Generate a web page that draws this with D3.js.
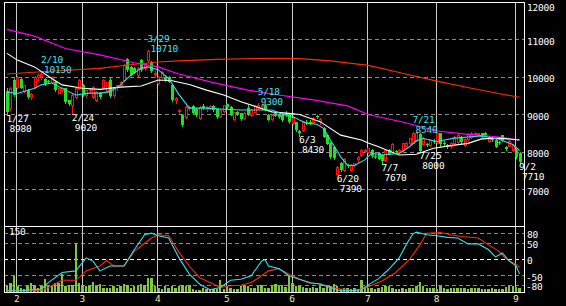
<!DOCTYPE html>
<html>
<head>
<meta charset="utf-8">
<script src="https://cdnjs.cloudflare.com/ajax/libs/d3/7.8.5/d3.min.js"></script>
<style>
html, body { margin: 0; padding: 0; background: #000; }
svg { display: block; }
text { font-family: "DejaVu Sans Mono", monospace; font-size: 9.5px; letter-spacing: -0.2px; }
</style>
</head>
<body>
<svg id="chart" width="566" height="306"></svg>
<script>
// trading days of each month
const jan = [27, 28, 31]
const feb = [1, 2, 3, 4, 7, 8, 9, 10, 14, 15, 16, 17, 18, 21, 22, 23, 24, 25, 28]
const mar = [1, 2, 3, 4, 7, 8, 9, 10, 11, 14, 15, 16, 17, 18, 22, 23, 24, 25, 28, 29, 30, 31]
const apr = [1, 4, 5, 6, 7, 8, 11, 12, 13, 14, 15, 18, 19, 20, 21, 22, 25, 26, 27, 28]
const may = [2, 6, 9, 10, 11, 12, 13, 16, 17, 18, 19, 20, 23, 24, 25, 26, 27, 30, 31]
const jun = [1, 2, 3, 6, 7, 8, 9, 10, 13, 14, 15, 16, 17, 20, 21, 22, 23, 24, 27, 28, 29, 30]
const jul = [1, 4, 5, 6, 7, 8, 11, 12, 13, 14, 15, 19, 20, 21, 22, 25, 26, 27, 28, 29]
const aug = [1, 2, 3, 4, 5, 8, 9, 10, 11, 12, 15, 16, 17, 18, 19, 22, 23, 24, 25, 26, 29, 30, 31]
const sep = [1, 2]

// [open, high, low, close]
const ohlcJan = [[9640, 9700, 8980, 9080], [9170, 9740, 9120, 9700], [9930, 9960, 9500, 9530]]
const ohlcFeb = [
    [9740, 10030, 9700, 10000], [9950, 9980, 9700, 9720], [9640, 9800, 9600, 9780], [9650, 9680, 9440, 9470],
    [9460, 9560, 9420, 9540], [9740, 10020, 9720, 10000], [9990, 10080, 9900, 10050], [10020, 10150, 9950, 10090],
    [9950, 9980, 9800, 9820], [9900, 9930, 9850, 9870], [9880, 10020, 9860, 10000], [9870, 9900, 9640, 9660],
    [9580, 9720, 9560, 9700], [9650, 9730, 9600, 9710], [9700, 9720, 9320, 9340], [9380, 9400, 9250, 9270],
    [9250, 9540, 9020, 9520], [9460, 9720, 9440, 9700], [9710, 9940, 9680, 9920]
]
const ohlcMar = [
    [9780, 9820, 9500, 9520], [9520, 9700, 9480, 9650], [9660, 9720, 9600, 9680], [9470, 9760, 9440, 9730],
    [9390, 9620, 9350, 9600], [9560, 9600, 9440, 9470], [9740, 9950, 9700, 9920], [9640, 9880, 9600, 9860],
    [9920, 9960, 9480, 9500], [9520, 9740, 9480, 9730], [9750, 9800, 9650, 9780], [9800, 9900, 9750, 9880],
    [9920, 10350, 9900, 10320], [10480, 10520, 10160, 10190], [10270, 10300, 10050, 10060], [10230, 10260, 10100, 10110],
    [10060, 10260, 10030, 10240], [10450, 10480, 10170, 10190], [10240, 10370, 10200, 10350], [10450, 10710, 10400, 10700],
    [10400, 10420, 10130, 10150], [10080, 10160, 10000, 10110]
]
const ohlcApr = [
    [9850, 10030, 9820, 10000], [9990, 10150, 9960, 10130], [10000, 10050, 9900, 9920], [10000, 10020, 9860, 9870],
    [9790, 9820, 9370, 9390], [9380, 9480, 9300, 9440], [9100, 9150, 9050, 9120], [8990, 9010, 8700, 8720],
    [8940, 9230, 8900, 9200], [9170, 9230, 9120, 9200], [9220, 9260, 9030, 9040], [9150, 9180, 8970, 8990],
    [8910, 9230, 8880, 9200], [9220, 9280, 9150, 9170], [9150, 9220, 9100, 9200], [9180, 9260, 9150, 9230],
    [9220, 9260, 9100, 9130], [9150, 9180, 8900, 8930], [8950, 9150, 8930, 9120], [9100, 9260, 9080, 9240]
]
const ohlcMay = [
    [9280, 9290, 9180, 9200], [9200, 9230, 8990, 9000], [8880, 9080, 8850, 9060], [9080, 9100, 9000, 9020],
    [9030, 9050, 8860, 8880], [8900, 9080, 8880, 9050], [9170, 9250, 8980, 9000], [8980, 9150, 8950, 9120],
    [9080, 9250, 9060, 9230], [9200, 9300, 9150, 9250], [9220, 9280, 9150, 9260], [9250, 9270, 9120, 9140],
    [9000, 9020, 8850, 8860], [8870, 9020, 8850, 9000], [9050, 9070, 8960, 8970], [9000, 9020, 8900, 8920],
    [9000, 9050, 8840, 8860], [9030, 9100, 8960, 8980], [9010, 9040, 8780, 8800]
]
const ohlcJun = [
    [8780, 8920, 8760, 8900], [8790, 8810, 8560, 8590], [8560, 8600, 8430, 8500], [8590, 8810, 8560, 8800],
    [8810, 8860, 8760, 8800], [8800, 8850, 8760, 8780], [8790, 8920, 8770, 8900], [8970, 9000, 8910, 8930],
    [8820, 8900, 8740, 8880], [8640, 8660, 8400, 8410], [8440, 8470, 8200, 8220], [8240, 8260, 7850, 7870],
    [8130, 8150, 7820, 7840], [7420, 7620, 7390, 7600], [7710, 7740, 7500, 7520], [7520, 7830, 7500, 7810],
    [7650, 7680, 7600, 7630], [7520, 7670, 7500, 7650], [7650, 7720, 7620, 7700], [7820, 7900, 7700, 7870],
    [7930, 8070, 7900, 8050], [8020, 8080, 7990, 8060]
]
const ohlcJul = [
    [8000, 8120, 7980, 8100], [8050, 8080, 7880, 7900], [7900, 7950, 7850, 7880], [7970, 7990, 7800, 7820],
    [7920, 7950, 7670, 7750], [7780, 8080, 7760, 8050], [8050, 8070, 7940, 7960], [8000, 8240, 7980, 8210],
    [8030, 8060, 7990, 8010], [8000, 8080, 7980, 8060], [8060, 8250, 8030, 8240], [8170, 8260, 8150, 8240],
    [8240, 8380, 8220, 8370], [8250, 8540, 8230, 8500], [8330, 8530, 8300, 8500], [8480, 8510, 8000, 8030],
    [8200, 8400, 8180, 8370], [8200, 8230, 8150, 8180], [8180, 8340, 8160, 8320], [8300, 8350, 8250, 8280]
]
const ohlcAug = [
    [8270, 8530, 8250, 8520], [8500, 8520, 8170, 8200], [8250, 8300, 8180, 8220], [8180, 8200, 8100, 8130],
    [8150, 8260, 8120, 8230], [8240, 8420, 8220, 8400], [8260, 8470, 8240, 8450], [8400, 8430, 8250, 8270],
    [8190, 8380, 8170, 8360], [8350, 8510, 8330, 8490], [8400, 8530, 8380, 8520], [8490, 8530, 8470, 8510],
    [8480, 8520, 8460, 8500], [8500, 8520, 8400, 8430], [8510, 8530, 8440, 8460], [8290, 8420, 8270, 8400],
    [8380, 8400, 8300, 8320], [8320, 8340, 8130, 8140], [8260, 8300, 8200, 8250], [8440, 8460, 8290, 8310],
    [8130, 8160, 8050, 8070], [8170, 8330, 8150, 8300], [8060, 8210, 8040, 8190]
]
const ohlcSep = [[8060, 8080, 7840, 7860], [7980, 8000, 7710, 7740]]

// volume (scale 0-150)
const volJan = [14, 21, 38]
const volFeb = [15, 10, 8, 14, 20, 17, 10, 14, 29, 14, 15, 21, 20, 42, 14, 15, 17, 112, 21]
const volMar = [17, 14, 15, 23, 15, 19, 10, 10, 10, 14, 10, 14, 19, 17, 10, 14, 14, 19, 17, 33, 33, 14]
const volApr = [10, 6, 14, 10, 15, 10, 14, 16, 14, 17, 6, 4, 4, 10, 6, 6, 8, 6, 27, 8]
const volMay = [14, 10, 8, 6, 15, 15, 14, 10, 10, 15, 17, 10, 10, 14, 19, 14, 17, 11, 38]
const volJun = [21, 14, 15, 11, 10, 10, 11, 10, 14, 10, 17, 14, 19, 14, 6, 10, 10, 8, 10, 8, 27, 10]
const volJul = [10, 10, 8, 10, 12, 15, 14, 10, 6, 8, 10, 6, 10, 10, 14, 23, 15, 10, 10, 10]
const volAug = [8, 14, 10, 6, 10, 10, 10, 10, 10, 8, 10, 10, 10, 8, 8, 6, 10, 6, 6, 6, 11, 14, 14]
const volSep = [11, 10]

// moving averages: [trading day no., value]
const maShort = [[0, 9600], [3, 9560], [8, 9700], [10, 9790], [13, 9840], [17, 9650], [20, 9520], [24, 9570],
    [27, 9570], [30, 9610], [33, 9790], [36, 10050], [39, 10230], [41, 10270], [44, 10190], [47, 9960],
    [50, 9530], [53, 9170], [58, 9170], [63, 9140], [68, 9120], [73, 9120], [77, 9120], [80, 9010],
    [83, 8950], [85, 8850], [87, 8770], [90, 8740], [92, 8630], [94, 8320], [97, 7870], [99, 7650],
    [101, 7640], [104, 7790], [106, 7970], [109, 7920], [114, 7960], [117, 8140], [119, 8300], [121, 8360],
    [125, 8280], [130, 8370], [134, 8400], [138, 8430], [143, 8340], [147, 8200], [149, 8040]]
const maMid = [[0, 10630], [3, 10450], [8, 10270], [13, 9960], [16, 9790], [22, 9700], [27, 9670], [33, 9730],
    [39, 9760], [44, 9920], [48, 9900], [53, 9800], [58, 9650], [63, 9520], [68, 9340], [73, 9190],
    [77, 9070], [82, 9030], [85, 9000], [91, 8810], [97, 8450], [103, 8320], [105, 8240], [108, 8140],
    [114, 7920], [119, 7940], [124, 8100], [129, 8170], [134, 8230], [138, 8350], [143, 8370], [149, 8320]]
const maLong = [[0, 11270], [8, 11090], [17, 10760], [27, 10590], [37, 10380], [44, 10270], [48, 10140],
    [50, 10080], [60, 9850], [70, 9650], [79, 9520], [89, 9390], [99, 9230], [105, 9000], [115, 8800],
    [125, 8560], [134, 8470], [143, 8400], [149, 8320]]
const maYear = [[0, 10080], [10, 10140], [27, 10230], [35, 10320], [44, 10400], [50, 10430], [61, 10470],
    [76, 10500], [85, 10490], [94, 10430], [105, 10310], [115, 10100], [125, 9890], [135, 9700],
    [144, 9540], [149, 9460]]

// oscillator (-100..100)
const oscFast = [[0, -96], [4, -96], [10, -91], [12, -71], [16, -40], [20, -35], [23, 5], [25, -5], [27, -35],
    [30, -20], [34, -20], [37, 30], [40, 76], [42, 81], [44, 73], [47, 66], [50, 5], [53, -45], [56, -76],
    [59, -93], [62, -86], [65, -64], [68, -61], [71, -50], [74, -5], [75, 0], [76, -20], [79, -28],
    [82, -50], [85, -61], [88, -71], [91, -76], [94, -86], [97, -96], [100, -96], [103, -93], [105, -78],
    [108, -59], [111, -30], [114, 5], [116, 45], [118, 79], [119, 84], [122, 76], [125, 73], [128, 68],
    [131, 66], [134, 48], [137, 48], [140, 30], [142, 8], [144, 20], [146, -5], [148, -20], [149, -45]]
const oscSlow = [[0, -96], [8, -96], [10, -94], [12, -86], [16, -64], [20, -64], [23, -35], [27, -20],
    [29, -3], [31, -20], [34, -20], [37, 25], [40, 50], [42, 66], [44, 76], [47, 73], [50, 22], [53, -20],
    [56, -56], [59, -71], [62, -86], [65, -81], [68, -79], [71, -71], [74, -50], [76, -35], [79, -28],
    [82, -45], [85, -61], [88, -73], [91, -74], [94, -86], [97, -91], [100, -96], [103, -91], [105, -84],
    [109, -66], [113, -40], [117, 0], [120, 45], [122, 81], [126, 83], [129, 76], [132, 71], [137, 66],
    [140, 45], [143, 25], [145, 2], [148, -15], [149, -25]]

const highMarks = [['2/10', 10150], ['3/29', 10710], ['5/18', 9300], ['7/21', 8540]]
const lowMarks = [['1/27', 8980], ['2/24', 9020], ['6/3', 8430], ['6/20', 7390], ['7/7', 7670], ['7/25', 8000], ['9/2', 7710]]

const priceTicks = [12000, 11000, 10000, 9000, 8000, 7000]
const oscTicks = [80, 50, 0, -50, -80]

// ---- build ----
const monthDays = [[1, jan], [2, feb], [3, mar], [4, apr], [5, may], [6, jun], [7, jul], [8, aug], [9, sep]]
const dates = monthDays.flatMap(([m, ds]) => ds.map(d => m + '/' + d))
const firstDays = monthDays.slice(1).map(([m, ds]) => m + '/' + ds[0])
const ohlc = [].concat(ohlcJan, ohlcFeb, ohlcMar, ohlcApr, ohlcMay, ohlcJun, ohlcJul, ohlcAug, ohlcSep)
const vols = [].concat(volJan, volFeb, volMar, volApr, volMay, volJun, volJul, volAug, volSep)
const candles = ohlc.map((c, i) => ({ date: dates[i], o: c[0], h: c[1], l: c[2], c: c[3], v: vols[i] }))

const pL = 4, pR = 524, pT = 2, pM = 227, pB = 292

const svg = d3.select('#chart')
svg.append('rect').attr('width', 566).attr('height', 306).attr('fill', '#000')

const x = d3.scalePoint().domain(dates).range([7, 519.6])
const y = d3.scaleLinear().domain([6000, 12000]).range([pM, pT])
const yOsc = d3.scaleLinear().domain([-100, 100]).range([pB, pM])
const yVol = d3.scaleLinear().domain([0, 150]).range([pB, pM])
const px = d => Math.round(x(d))

// dashed grid
svg.append('g').selectAll('line')
    .data(priceTicks.slice(1))
    .enter().append('line')
    .attr('x1', pL).attr('x2', pR)
    .attr('y1', d => Math.floor(y(d)) + 0.5).attr('y2', d => Math.floor(y(d)) + 0.5)
    .attr('stroke', '#8a8a8a').attr('stroke-dasharray', '4,3')

svg.append('g').selectAll('line')
    .data(oscTicks)
    .enter().append('line')
    .attr('x1', pL).attr('x2', pR)
    .attr('y1', d => Math.floor(yOsc(d)) + 0.5).attr('y2', d => Math.floor(yOsc(d)) + 0.5)
    .attr('stroke', d => d === 0 ? '#ffffff' : '#8a8a8a').attr('stroke-dasharray', '4,3')

// month separators
svg.append('g').selectAll('line')
    .data(firstDays)
    .enter().append('line')
    .attr('x1', d => px(d) - 0.5).attr('x2', d => px(d) - 0.5)
    .attr('y1', pT).attr('y2', pB + 1)
    .attr('stroke', '#c8c8c8')

// volume
svg.append('g').selectAll('rect')
    .data(candles)
    .enter().append('rect')
    .attr('x', d => x(d.date) - 1.2)
    .attr('width', 2.4)
    .attr('y', d => yVol(d.v))
    .attr('height', d => pB - yVol(d.v))
    .attr('fill', '#80c840')
    .attr('shape-rendering', 'crispEdges')

const lineFrom = (ys) => d3.line().x(p => x(dates[p[0]])).y(p => ys(p[1]))

svg.append('path').datum(oscSlow).attr('d', lineFrom(yOsc))
    .attr('fill', 'none').attr('stroke', '#ff2a00').attr('stroke-width', 1.1)
svg.append('path').datum(oscFast).attr('d', lineFrom(yOsc))
    .attr('fill', 'none').attr('stroke', '#30e0f0').attr('stroke-width', 1.1)

// candles
const cg = svg.append('g').attr('shape-rendering', 'crispEdges')
const up = d => d.c >= d.o
cg.selectAll('line')
    .data(candles)
    .enter().append('line')
    .attr('x1', d => px(d.date) + 0.5).attr('x2', d => px(d.date) + 0.5)
    .attr('y1', d => Math.round(y(d.h))).attr('y2', d => Math.round(y(d.l)) + 1)
    .attr('stroke', d => up(d) ? '#ff1010' : '#20e020')
cg.selectAll('rect.up')
    .data(candles.filter(up))
    .enter().append('rect')
    .attr('class', 'up')
    .attr('x', d => px(d.date) - 0.5)
    .attr('width', 2)
    .attr('y', d => Math.round(y(d.c)) + 0.5)
    .attr('height', d => Math.max(0, Math.round(y(d.o)) - Math.round(y(d.c))))
    .attr('fill', '#000').attr('stroke', '#ff1010')
cg.selectAll('rect.down')
    .data(candles.filter(d => !up(d)))
    .enter().append('rect')
    .attr('class', 'down')
    .attr('x', d => px(d.date) - 1)
    .attr('width', 3)
    .attr('y', d => Math.round(y(d.o)))
    .attr('height', d => Math.max(1, Math.round(y(d.c)) - Math.round(y(d.o))))
    .attr('fill', '#20e020')

// moving averages
const maStyle = [[maYear, '#ff2a00'], [maLong, '#ff00ff'], [maMid, '#ffffff'], [maShort, '#30e0f0']]
maStyle.forEach(([pts, col]) => {
    svg.append('path').datum(pts).attr('d', lineFrom(y))
        .attr('fill', 'none').attr('stroke', col).attr('stroke-width', 1.1)
})

// frame
const frame = svg.append('g').attr('stroke', '#ffffff').attr('shape-rendering', 'crispEdges')
frame.append('line').attr('x1', pL + 0.5).attr('x2', pL + 0.5).attr('y1', pT).attr('y2', pB + 1)
frame.append('line').attr('x1', pR + 0.5).attr('x2', pR + 0.5).attr('y1', pT).attr('y2', pB + 1)
frame.append('line').attr('x1', pL).attr('x2', pR + 1).attr('y1', pT + 0.5).attr('y2', pT + 0.5)
frame.append('line').attr('x1', pL).attr('x2', pR + 1).attr('y1', pM - 0.5).attr('y2', pM - 0.5)
frame.append('line').attr('x1', pL).attr('x2', pR + 1).attr('y1', pB + 0.5).attr('y2', pB + 0.5)

// axes
const styleAxis = (g, col) => {
    g.select('.domain').remove()
    g.attr('font-family', null).attr('font-size', null)
    g.selectAll('text').attr('fill', col)
}
svg.append('g').attr('transform', 'translate(527,0)')
    .call(d3.axisRight(y).tickValues(priceTicks).tickSize(0).tickPadding(0).tickFormat(d => String(d)))
    .call(g => styleAxis(g, '#ffffff'))
    .selectAll('text').attr('dy', d => d === 12000 ? '0.85em' : '0.5em')
svg.append('g').attr('transform', 'translate(526,0)')
    .call(d3.axisRight(yOsc).tickValues(oscTicks).tickSize(0).tickPadding(0).tickFormat(d => String(d)))
    .call(g => styleAxis(g, '#ffffff'))
    .selectAll('text').attr('dy', '0.45em').attr('x', d => d < 0 ? 0 : 1)
svg.append('g').attr('transform', 'translate(-1,' + pB + ')')
    .call(d3.axisBottom(x).tickValues(firstDays).tickSize(0).tickPadding(3).tickFormat(d => d.split('/')[0]))
    .call(g => styleAxis(g, '#f0f0a0'))

svg.append('text').attr('x', 9).attr('y', 235).attr('fill', '#ffffff').text('150')

// high / low notes
const notes = svg.append('g')
highMarks.forEach(([d, v]) => {
    notes.append('text').attr('x', x(d) - 0.5).attr('y', y(v) - 8.5).attr('fill', '#40e0f0').text(d)
    notes.append('text').attr('x', x(d) + 2.5).attr('y', y(v) + 1.5).attr('fill', '#40e0f0').text(v)
})
lowMarks.forEach(([d, v]) => {
    notes.append('text').attr('x', x(d) - 0.5).attr('y', y(v) + 7).attr('fill', '#ffffff').text(d)
    notes.append('text').attr('x', x(d) + 2.5).attr('y', y(v) + 17).attr('fill', '#ffffff').text(v)
})
</script>
</body>
</html>
